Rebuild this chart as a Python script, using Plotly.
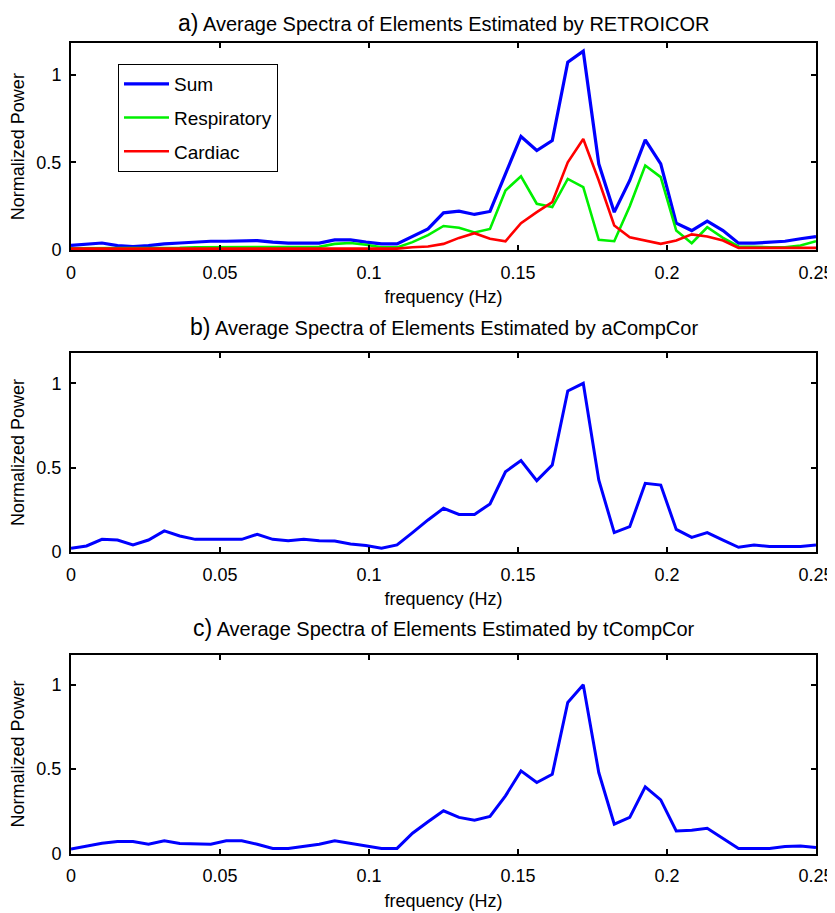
import plotly.graph_objects as go

# ---------------- data ----------------
freq = [0, 0.0052, 0.0104, 0.0156, 0.0208, 0.026, 0.0313, 0.0365, 0.0417, 0.0469,
        0.0521, 0.0573, 0.0625, 0.0677, 0.0729, 0.0781, 0.0833, 0.0885, 0.0938, 0.099,
        0.1042, 0.1094, 0.1146, 0.1198, 0.125, 0.1302, 0.1354, 0.1406, 0.1458, 0.151,
        0.1563, 0.1615, 0.1667, 0.1719, 0.1771, 0.1823, 0.1875, 0.1927, 0.1979, 0.2031,
        0.2083, 0.2135, 0.2188, 0.224, 0.2292, 0.2344, 0.2396, 0.2448, 0.25]

retro_sum = [0.026, 0.035, 0.040, 0.025, 0.020, 0.025, 0.035, 0.040, 0.045, 0.050,
             0.050, 0.050, 0.054, 0.045, 0.039, 0.039, 0.039, 0.058, 0.058, 0.045,
             0.035, 0.035, 0.075, 0.120, 0.212, 0.222, 0.203, 0.220, 0.435, 0.648,
             0.568, 0.625, 1.072, 1.135, 0.492, 0.216, 0.397, 0.629, 0.492, 0.153,
             0.111, 0.165, 0.111, 0.039, 0.039, 0.045, 0.050, 0.064, 0.077]

retro_resp = [0.010, 0.010, 0.010, 0.010, 0.010, 0.012, 0.012, 0.012, 0.015, 0.015,
              0.015, 0.015, 0.015, 0.015, 0.015, 0.015, 0.018, 0.035, 0.040, 0.030,
              0.015, 0.015, 0.045, 0.085, 0.137, 0.127, 0.100, 0.120, 0.340, 0.421,
              0.264, 0.245, 0.406, 0.359, 0.058, 0.050, 0.250, 0.482, 0.416, 0.111,
              0.039, 0.130, 0.069, 0.020, 0.016, 0.016, 0.016, 0.026, 0.050]

retro_card = [0.008, 0.008, 0.008, 0.008, 0.008, 0.008, 0.008, 0.008, 0.008, 0.008,
              0.008, 0.008, 0.008, 0.008, 0.008, 0.008, 0.008, 0.010, 0.010, 0.010,
              0.008, 0.008, 0.016, 0.020, 0.035, 0.069, 0.096, 0.064, 0.050, 0.153,
              0.216, 0.273, 0.501, 0.634, 0.397, 0.140, 0.073, 0.054, 0.035, 0.054,
              0.089, 0.077, 0.054, 0.012, 0.012, 0.012, 0.012, 0.012, 0.012]

acompcor = [0.022, 0.036, 0.075, 0.071, 0.042, 0.071, 0.125, 0.095, 0.075, 0.075,
            0.075, 0.075, 0.105, 0.075, 0.067, 0.075, 0.067, 0.065, 0.047, 0.038,
            0.022, 0.042, 0.115, 0.190, 0.259, 0.223, 0.223, 0.285, 0.476, 0.542,
            0.423, 0.516, 0.955, 1.000, 0.427, 0.115, 0.150, 0.407, 0.397, 0.134,
            0.087, 0.115, 0.071, 0.028, 0.042, 0.032, 0.032, 0.032, 0.042]

tcompcor = [0.026, 0.042, 0.061, 0.071, 0.071, 0.055, 0.075, 0.059, 0.055, 0.055,
            0.075, 0.075, 0.055, 0.030, 0.030, 0.042, 0.055, 0.075, 0.061, 0.045,
            0.030, 0.030, 0.120, 0.188, 0.253, 0.214, 0.198, 0.220, 0.342, 0.490,
            0.421, 0.470, 0.896, 1.000, 0.480, 0.174, 0.214, 0.395, 0.318, 0.134,
            0.138, 0.150, 0.089, 0.030, 0.030, 0.030, 0.042, 0.045, 0.036]

x_tickvals = [0, 0.05, 0.1, 0.15, 0.2, 0.25]
x_ticktext = ["0", "0.05", "0.1", "0.15", "0.2", "0.25"]
y_tickvals = [0, 0.5, 1]
y_ticktext = ["0", "0.5", "1"]

titles = ["a)", "b)", "c)"]
title_texts = ["Average Spectra of Elements Estimated by RETROICOR",
               "Average Spectra of Elements Estimated by aCompCor",
               "Average Spectra of Elements Estimated by tCompCor"]

# ---------------- layout geometry ----------------
# The page body has an 8px default margin, so the figure is sized/offset to fit.
OFF = 8
W, H = 835 - OFF, 913 - OFF
FONT = "Liberation Sans, Arial, Helvetica, sans-serif"


def xpaper(px):
    return (px - OFF) / W


def ypaper(py):
    return 1 - (py - OFF) / H


x_dom = [xpaper(71), xpaper(816)]
panels_px = [(43.3, 250.0), (353.0, 552.0), (654.5, 853.5)]
title_center_px = [23.0, 327.0, 627.5]

fig = go.Figure()

BLUE = "#0000FF"
GREEN = "#00F000"
RED = "#FF0000"

fig.add_trace(go.Scatter(x=freq, y=retro_sum, mode="lines", name="Sum",
                         line=dict(color=BLUE, width=3.2), legendgroup="g1",
                         xaxis="x", yaxis="y"))
fig.add_trace(go.Scatter(x=freq, y=retro_resp, mode="lines", name="Respiratory",
                         line=dict(color=GREEN, width=2.6), legendgroup="g2",
                         xaxis="x", yaxis="y"))
fig.add_trace(go.Scatter(x=freq, y=retro_card, mode="lines", name="Cardiac",
                         line=dict(color=RED, width=2.6), legendgroup="g3",
                         xaxis="x", yaxis="y"))
fig.add_trace(go.Scatter(x=freq, y=acompcor, mode="lines", name="aCompCor",
                         line=dict(color=BLUE, width=3.0), showlegend=False,
                         xaxis="x2", yaxis="y2"))
fig.add_trace(go.Scatter(x=freq, y=tcompcor, mode="lines", name="tCompCor",
                         line=dict(color=BLUE, width=3.0), showlegend=False,
                         xaxis="x3", yaxis="y3"))

layout = dict(
    width=W, height=H,
    margin=dict(l=0, r=0, t=0, b=0),
    paper_bgcolor="white", plot_bgcolor="white",
    font=dict(family=FONT, color="black", size=18),
    showlegend=True,
    legend=dict(x=xpaper(118), y=ypaper(64), xanchor="left", yanchor="top",
                bgcolor="white", bordercolor="black", borderwidth=1,
                font=dict(size=19, family=FONT), tracegroupgap=6,
                itemwidth=45),
)

annotations = []
for i, (top, bot) in enumerate(panels_px):
    sfx = "" if i == 0 else str(i + 1)
    layout["xaxis" + sfx] = dict(
        domain=x_dom, anchor="y" + sfx, range=[0, 0.25],
        tickvals=x_tickvals, ticktext=x_ticktext,
        ticks="inside", ticklen=5, tickwidth=2, tickcolor="black",
        showline=True, linecolor="black", linewidth=2, mirror="ticks",
        showgrid=False, zeroline=False, automargin=False,
        tickfont=dict(size=18, family=FONT), ticklabelstandoff=5,
        title=dict(text="frequency (Hz)", font=dict(size=18, family=FONT), standoff=9),
    )
    layout["yaxis" + sfx] = dict(
        domain=[ypaper(bot), ypaper(top)], anchor="x" + sfx, range=[0, 1.18],
        tickvals=y_tickvals, ticktext=y_ticktext,
        ticks="inside", ticklen=5, tickwidth=2, tickcolor="black",
        showline=True, linecolor="black", linewidth=2, mirror="ticks",
        showgrid=False, zeroline=False, automargin=False,
        tickfont=dict(size=18, family=FONT), ticklabelstandoff=4,
        title=dict(text="Normalized Power", font=dict(size=18, family=FONT), standoff=8),
    )
    annotations.append(dict(
        xref="paper", yref="paper", x=xpaper(443.5), y=ypaper(title_center_px[i]),
        xanchor="center", yanchor="middle", showarrow=False,
        text="<span style='font-size:23px'>" + titles[i] + "</span> " + title_texts[i],
        font=dict(size=20, family=FONT, color="black"),
    ))

layout["annotations"] = annotations
fig.update_layout(**layout)

fig.write_html("out.html")
